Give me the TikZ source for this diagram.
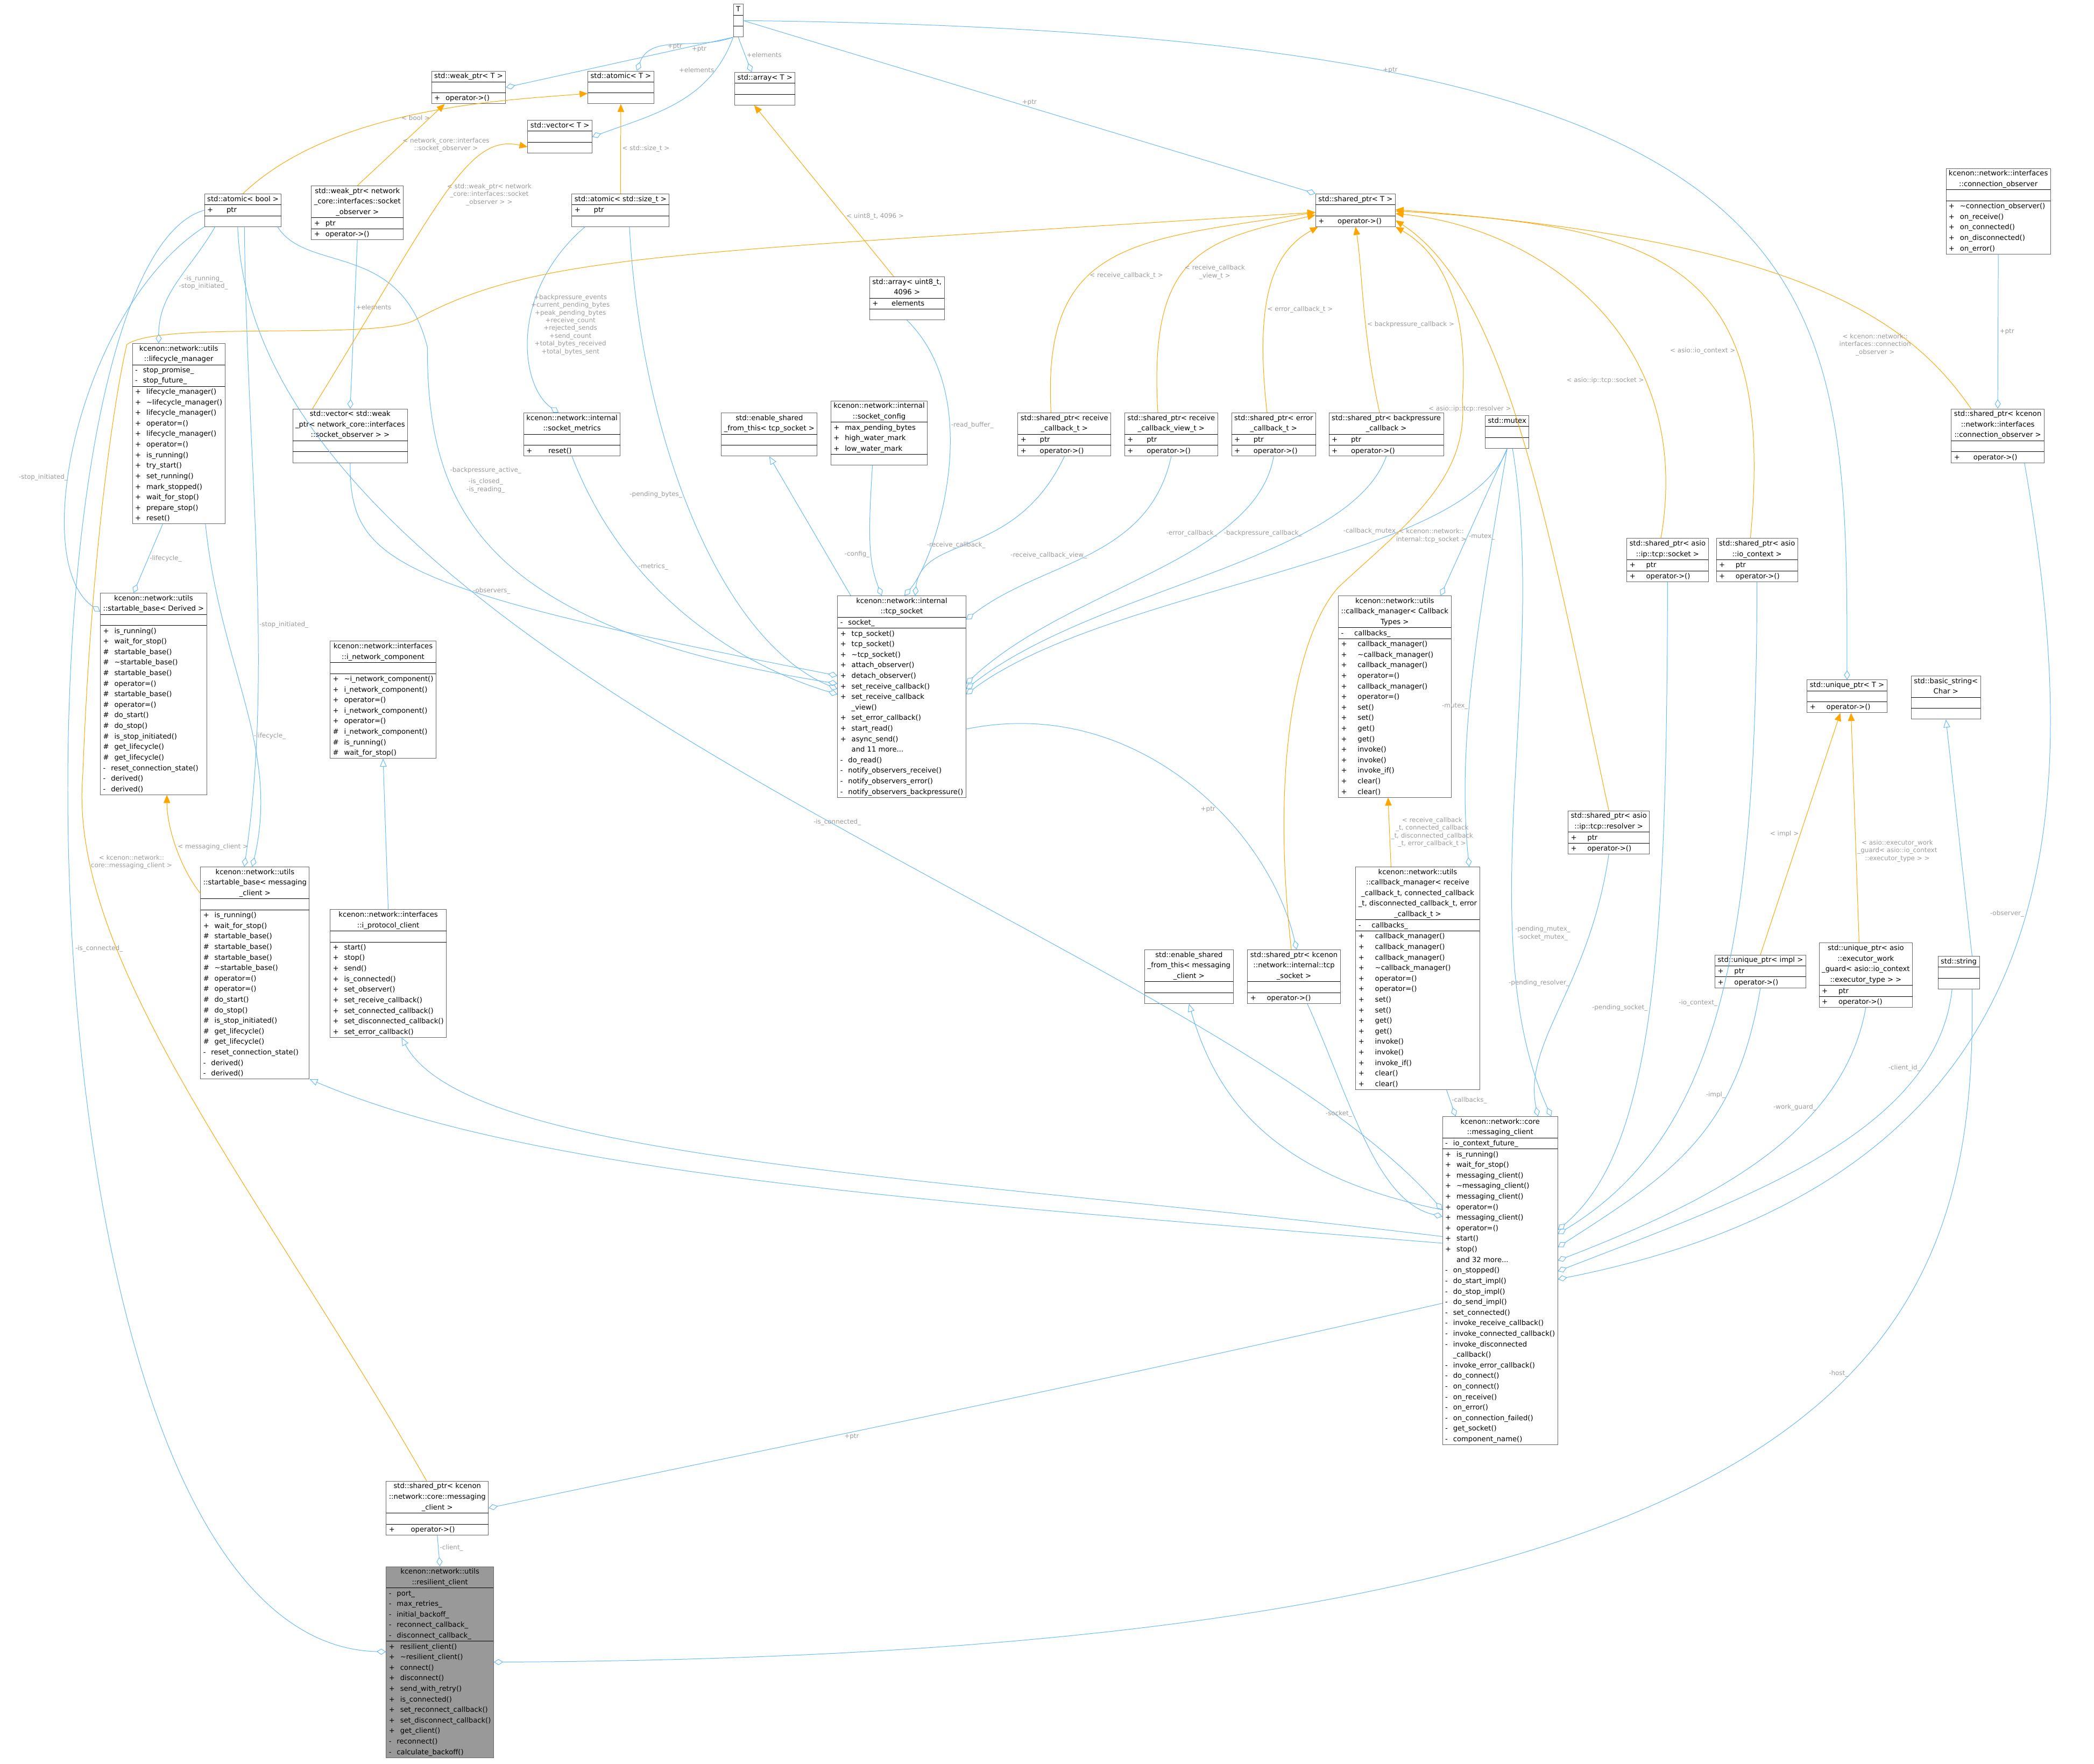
\documentclass[tikz,border=0pt]{standalone}
\usepackage{fontspec}
\setmainfont{DejaVu Sans}
\usetikzlibrary{arrows.meta}
\definecolor{cblue}{HTML}{63B8FF}
\definecolor{corange}{HTML}{FFA500}
\definecolor{labc}{HTML}{9A9A9A}
\definecolor{boxc}{HTML}{666666}
\newcommand\ttl[1]{\multicolumn{1}{@{\hspace{2pt}}c@{\hspace{2pt}}}{#1}\\}
\newcommand\mm[2]{#1\hspace{4pt}#2\\}
\newcommand\bx[1]{\begin{tabular}{@{\hspace{2pt}}l@{\hspace{2pt}}}#1\end{tabular}}
\newcommand\tl{\textasciitilde}
\begin{document}
\catcode`\_=12
\begin{tikzpicture}[x=1pt,y=-1pt,
  box/.style={draw=boxc,fill=white,inner sep=0pt,anchor=north west,font=\fontsize{5.3}{7.9}\selectfont},
  agg/.style={draw=cblue,-{Diamond[open,length=7pt,width=4.5pt]}},
  inh/.style={draw=cblue,-{Triangle[open,length=6pt,width=5pt]}},
  tmp/.style={draw=corange,-{Triangle[length=6pt,width=5pt]}},
  lbl/.style={font=\fontsize{4.8}{5.8}\selectfont,text=labc,align=center,inner sep=1pt}]
\useasboundingbox (0,0) rectangle (1568,1321);

% ---------- nodes ----------
\node[box] (T) at (549,3) {\bx{\ttl{T}\hline\\\hline\\}};
\node[box] (weakT) at (323,53) {\bx{\ttl{std::weak_ptr< T >}\hline\\\hline\mm{+}{operator->()}}};
\node[box] (atomicT) at (440,53) {\bx{\ttl{std::atomic< T >}\hline\\\hline\\}};
\node[box] (arrayT) at (550,54) {\bx{\ttl{std::array< T >}\hline\\\hline\\}};
\node[box] (vectorT) at (395,90) {\bx{\ttl{std::vector< T >}\hline\\\hline\\}};
\node[box] (atomicBool) at (153,145) {\bx{\ttl{std::atomic< bool >}\hline\mm{+}{\hspace{6pt}ptr}\hline\\}};
\node[box] (weakObs) at (233,139) {\bx{\ttl{std::weak_ptr< network}\ttl{_core::interfaces::socket}\ttl{_observer >}\hline\mm{+}{ptr}\hline\mm{+}{operator->()}}};
\node[box] (atomicSize) at (428,145) {\bx{\ttl{std::atomic< std::size_t >}\hline\mm{+}{\hspace{6pt}ptr}\hline\\}};
\node[box] (lifecycle) at (99,257) {\bx{\ttl{kcenon::network::utils}\ttl{::lifecycle_manager}\hline
 \mm{-}{stop_promise_}\mm{-}{stop_future_}\hline
 \mm{+}{lifecycle_manager()}\mm{+}{\tl lifecycle_manager()}\mm{+}{lifecycle_manager()}\mm{+}{operator=()}\mm{+}{lifecycle_manager()}\mm{+}{operator=()}\mm{+}{is_running()}\mm{+}{try_start()}\mm{+}{set_running()}\mm{+}{mark_stopped()}\mm{+}{wait_for_stop()}\mm{+}{prepare_stop()}\mm{+}{reset()}}};
\node[box] (vecWeak) at (219,306) {\bx{\ttl{std::vector< std::weak}\ttl{_ptr< network_core::interfaces}\ttl{::socket_observer > >}\hline\\\hline\\}};
\node[box] (metrics) at (392,309) {\bx{\ttl{kcenon::network::internal}\ttl{::socket_metrics}\hline\\\hline\mm{+}{\hspace{8pt}reset()}}};
\node[box] (esftTcp) at (540,309) {\bx{\ttl{std::enable_shared}\ttl{_from_this< tcp_socket >}\hline\\\hline\\}};
\node[box] (config) at (622,300) {\bx{\ttl{kcenon::network::internal}\ttl{::socket_config}\hline\mm{+}{max_pending_bytes}\mm{+}{high_water_mark}\mm{+}{low_water_mark}\hline\\}};
\node[box] (arrU8) at (651,207) {\bx{\ttl{std::array< uint8_t,}\ttl{4096 >}\hline\mm{+}{\hspace{6pt}elements}\hline\\}};
\node[box] (sharedT) at (985,145) {\bx{\ttl{std::shared_ptr< T >}\hline\\\hline\mm{+}{\hspace{6pt}operator->()}}};
\node[box] (spRecv) at (762,309) {\bx{\ttl{std::shared_ptr< receive}\ttl{_callback_t >}\hline\mm{+}{\hspace{6pt}ptr}\hline\mm{+}{\hspace{6pt}operator->()}}};
\node[box] (spRecvView) at (842,309) {\bx{\ttl{std::shared_ptr< receive}\ttl{_callback_view_t >}\hline\mm{+}{\hspace{6pt}ptr}\hline\mm{+}{\hspace{6pt}operator->()}}};
\node[box] (spErr) at (922,309) {\bx{\ttl{std::shared_ptr< error}\ttl{_callback_t >}\hline\mm{+}{\hspace{6pt}ptr}\hline\mm{+}{\hspace{6pt}operator->()}}};
\node[box] (spBack) at (995,309) {\bx{\ttl{std::shared_ptr< backpressure}\ttl{_callback >}\hline\mm{+}{\hspace{6pt}ptr}\hline\mm{+}{\hspace{6pt}operator->()}}};
\node[box] (mutex) at (1112,311) {\bx{\ttl{std::mutex}\hline\\\hline\\}};
\node[box] (tcp) at (627,446) {\bx{\ttl{kcenon::network::internal}\ttl{::tcp_socket}\hline\mm{-}{socket_}\hline
 \mm{+}{tcp_socket()}\mm{+}{tcp_socket()}\mm{+}{\tl tcp_socket()}\mm{+}{attach_observer()}\mm{+}{detach_observer()}\mm{+}{set_receive_callback()}\mm{+}{set_receive_callback}\mm{\phantom{+}}{_view()}\mm{+}{set_error_callback()}\mm{+}{start_read()}\mm{+}{async_send()}\mm{\phantom{+}}{and 11 more...}\mm{-}{do_read()}\mm{-}{notify_observers_receive()}\mm{-}{notify_observers_error()}\mm{-}{notify_observers_backpressure()}}};
\node[box] (cbmT) at (1002,446) {\bx{\ttl{kcenon::network::utils}\ttl{::callback_manager< Callback}\ttl{Types >}\hline\mm{-}{\hspace{4pt}callbacks_}\hline
 \mm{+}{\hspace{4pt}callback_manager()}\mm{+}{\hspace{4pt}\tl callback_manager()}\mm{+}{\hspace{4pt}callback_manager()}\mm{+}{\hspace{4pt}operator=()}\mm{+}{\hspace{4pt}callback_manager()}\mm{+}{\hspace{4pt}operator=()}\mm{+}{\hspace{4pt}set()}\mm{+}{\hspace{4pt}set()}\mm{+}{\hspace{4pt}get()}\mm{+}{\hspace{4pt}get()}\mm{+}{\hspace{4pt}invoke()}\mm{+}{\hspace{4pt}invoke()}\mm{+}{\hspace{4pt}invoke_if()}\mm{+}{\hspace{4pt}clear()}\mm{+}{\hspace{4pt}clear()}}};
\node[box] (spAsioSock) at (1218,403) {\bx{\ttl{std::shared_ptr< asio}\ttl{::ip::tcp::socket >}\hline\mm{+}{\hspace{4pt}ptr}\hline\mm{+}{\hspace{4pt}operator->()}}};
\node[box] (spIoCtx) at (1285,403) {\bx{\ttl{std::shared_ptr< asio}\ttl{::io_context >}\hline\mm{+}{\hspace{4pt}ptr}\hline\mm{+}{\hspace{4pt}operator->()}}};
\node[box] (connObs) at (1457,126) {\bx{\ttl{kcenon::network::interfaces}\ttl{::connection_observer}\hline\\\hline\mm{+}{\tl connection_observer()}\mm{+}{on_receive()}\mm{+}{on_connected()}\mm{+}{on_disconnected()}\mm{+}{on_error()}}};
\node[box] (spConnObs) at (1461,306) {\bx{\ttl{std::shared_ptr< kcenon}\ttl{::network::interfaces}\ttl{::connection_observer >}\hline\\\hline\mm{+}{\hspace{6pt}operator->()}}};
\node[box] (uniqueT) at (1353,509) {\bx{\ttl{std::unique_ptr< T >}\hline\\\hline\mm{+}{\hspace{4pt}operator->()}}};
\node[box] (basicStr) at (1431,506) {\bx{\ttl{std::basic_string<}\ttl{Char >}\hline\\\hline\\}};
\node[box] (spResolver) at (1174,607) {\bx{\ttl{std::shared_ptr< asio}\ttl{::ip::tcp::resolver >}\hline\mm{+}{\hspace{4pt}ptr}\hline\mm{+}{\hspace{4pt}operator->()}}};
\node[box] (startD) at (75,444) {\bx{\ttl{kcenon::network::utils}\ttl{::startable_base< Derived >}\hline\\\hline
 \mm{+}{is_running()}\mm{+}{wait_for_stop()}\mm{\#}{startable_base()}\mm{\#}{\tl startable_base()}\mm{\#}{startable_base()}\mm{\#}{operator=()}\mm{\#}{startable_base()}\mm{\#}{operator=()}\mm{\#}{do_start()}\mm{\#}{do_stop()}\mm{\#}{is_stop_initiated()}\mm{\#}{get_lifecycle()}\mm{\#}{get_lifecycle()}\mm{-}{reset_connection_state()}\mm{-}{derived()}\mm{-}{derived()}}};
\node[box] (inetcomp) at (247,480) {\bx{\ttl{kcenon::network::interfaces}\ttl{::i_network_component}\hline\\\hline
 \mm{+}{\tl i_network_component()}\mm{+}{i_network_component()}\mm{+}{operator=()}\mm{+}{i_network_component()}\mm{+}{operator=()}\mm{\#}{i_network_component()}\mm{\#}{is_running()}\mm{\#}{wait_for_stop()}}};
\node[box] (startMC) at (150,649) {\bx{\ttl{kcenon::network::utils}\ttl{::startable_base< messaging}\ttl{_client >}\hline\\\hline
 \mm{+}{is_running()}\mm{+}{wait_for_stop()}\mm{\#}{startable_base()}\mm{\#}{startable_base()}\mm{\#}{startable_base()}\mm{\#}{\tl startable_base()}\mm{\#}{operator=()}\mm{\#}{operator=()}\mm{\#}{do_start()}\mm{\#}{do_stop()}\mm{\#}{is_stop_initiated()}\mm{\#}{get_lifecycle()}\mm{\#}{get_lifecycle()}\mm{-}{reset_connection_state()}\mm{-}{derived()}\mm{-}{derived()}}};
\node[box] (iproto) at (247,681) {\bx{\ttl{kcenon::network::interfaces}\ttl{::i_protocol_client}\hline\\\hline
 \mm{+}{start()}\mm{+}{stop()}\mm{+}{send()}\mm{+}{is_connected()}\mm{+}{set_observer()}\mm{+}{set_receive_callback()}\mm{+}{set_connected_callback()}\mm{+}{set_disconnected_callback()}\mm{+}{set_error_callback()}}};
\node[box] (esftMC) at (857,711) {\bx{\ttl{std::enable_shared}\ttl{_from_this< messaging}\ttl{_client >}\hline\\\hline\\}};
\node[box] (spTcp) at (934,711) {\bx{\ttl{std::shared_ptr< kcenon}\ttl{::network::internal::tcp}\ttl{_socket >}\hline\\\hline\mm{+}{\hspace{4pt}operator->()}}};
\node[box] (cbmR) at (1015,649) {\bx{\ttl{kcenon::network::utils}\ttl{::callback_manager< receive}\ttl{_callback_t, connected_callback}\ttl{_t, disconnected_callback_t, error}\ttl{_callback_t >}\hline\mm{-}{\hspace{4pt}callbacks_}\hline
 \mm{+}{\hspace{4pt}callback_manager()}\mm{+}{\hspace{4pt}callback_manager()}\mm{+}{\hspace{4pt}callback_manager()}\mm{+}{\hspace{4pt}\tl callback_manager()}\mm{+}{\hspace{4pt}operator=()}\mm{+}{\hspace{4pt}operator=()}\mm{+}{\hspace{4pt}set()}\mm{+}{\hspace{4pt}set()}\mm{+}{\hspace{4pt}get()}\mm{+}{\hspace{4pt}get()}\mm{+}{\hspace{4pt}invoke()}\mm{+}{\hspace{4pt}invoke()}\mm{+}{\hspace{4pt}invoke_if()}\mm{+}{\hspace{4pt}clear()}\mm{+}{\hspace{4pt}clear()}}};
\node[box] (mc) at (1080,836) {\bx{\ttl{kcenon::network::core}\ttl{::messaging_client}\hline\mm{-}{io_context_future_}\hline
 \mm{+}{is_running()}\mm{+}{wait_for_stop()}\mm{+}{messaging_client()}\mm{+}{\tl messaging_client()}\mm{+}{messaging_client()}\mm{+}{operator=()}\mm{+}{messaging_client()}\mm{+}{operator=()}\mm{+}{start()}\mm{+}{stop()}\mm{\phantom{+}}{and 32 more...}\mm{-}{on_stopped()}\mm{-}{do_start_impl()}\mm{-}{do_stop_impl()}\mm{-}{do_send_impl()}\mm{-}{set_connected()}\mm{-}{invoke_receive_callback()}\mm{-}{invoke_connected_callback()}\mm{-}{invoke_disconnected}\mm{\phantom{-}}{_callback()}\mm{-}{invoke_error_callback()}\mm{-}{do_connect()}\mm{-}{on_connect()}\mm{-}{on_receive()}\mm{-}{on_error()}\mm{-}{on_connection_failed()}\mm{-}{get_socket()}\mm{-}{component_name()}}};
\node[box] (upImpl) at (1284,715) {\bx{\ttl{std::unique_ptr< impl >}\hline\mm{+}{\hspace{4pt}ptr}\hline\mm{+}{\hspace{4pt}operator->()}}};
\node[box] (upWG) at (1362,706) {\bx{\ttl{std::unique_ptr< asio}\ttl{::executor_work}\ttl{_guard< asio::io_context}\ttl{::executor_type > >}\hline\mm{+}{\hspace{4pt}ptr}\hline\mm{+}{\hspace{4pt}operator->()}}};
\node[box] (str) at (1451,716) {\bx{\ttl{std::string}\hline\\\hline\\}};
\node[box] (spMC) at (289,1109) {\bx{\ttl{std::shared_ptr< kcenon}\ttl{::network::core::messaging}\ttl{_client >}\hline\\\hline\mm{+}{\hspace{8pt}operator->()}}};
\node[box,fill=black!40] (res) at (289,1173) {\bx{\ttl{kcenon::network::utils}\ttl{::resilient_client}\hline
 \mm{-}{port_}\mm{-}{max_retries_}\mm{-}{initial_backoff_}\mm{-}{reconnect_callback_}\mm{-}{disconnect_callback_}\hline
 \mm{+}{resilient_client()}\mm{+}{\tl resilient_client()}\mm{+}{connect()}\mm{+}{disconnect()}\mm{+}{send_with_retry()}\mm{+}{is_connected()}\mm{+}{set_reconnect_callback()}\mm{+}{set_disconnect_callback()}\mm{+}{get_client()}\mm{-}{reconnect()}\mm{-}{calculate_backoff()}}};

% ---------- aggregation (blue) ----------
\draw[agg] (T.south west) -- node[lbl,pos=0.15,below]{+ptr} (weakT.east);
\draw[agg] (T.south west) to[out=200,in=70] node[lbl,pos=0.6,right]{+ptr} ([xshift=12pt]atomicT.north);
\draw[agg] (T.south west) to[out=250,in=20] node[lbl,pos=0.2,left]{+elements} (vectorT.east);
\draw[agg] (T.south) -- node[lbl,pos=0.5,right]{+elements} ([xshift=-10pt]arrayT.north);
\draw[agg] (T.east) -- node[lbl,pos=0.5,above]{+ptr} (sharedT.north west);
\draw[agg] (T.east) .. controls (1383,24) and (1383,200) .. node[lbl,pos=0.25,right]{+ptr} (uniqueT.north);
\draw[agg] (connObs.south) -- node[lbl,pos=0.5,right]{+ptr} (spConnObs.north);
\draw[agg] (weakObs.south) -- node[lbl,pos=0.4,right]{+elements} (vecWeak.north);
\draw[agg] ([xshift=8pt]atomicBool.south west) to[out=240,in=90] node[lbl,pos=0.5,right]{-is_running_\\-stop_initiated_} ([xshift=-15pt]lifecycle.north);
\draw[agg] (atomicBool.south west) .. controls (60,230) and (20,420) .. node[lbl,pos=0.6,left]{-stop_initiated_} ([yshift=-14pt]startD.north west);
\draw[agg] ([xshift=30pt]atomicBool.south west) .. controls (185,350) and (205,500) .. node[lbl,pos=0.6,right]{-stop_initiated_} ([xshift=-8pt]startMC.north);
\draw[agg] ([xshift=-3pt]atomicBool.south east) .. controls (230,205) and (300,180) .. (320,260) .. controls (320,380) and (360,470) .. node[lbl,pos=0.3,right]{-backpressure_active_\\[3pt]-is_closed_\\-is_reading_} ([yshift=-66pt]tcp.north west);
\draw[agg] ([xshift=25pt]atomicBool.south west) .. controls (190,500) and (900,700) .. node[lbl,pos=0.55,above]{-is_connected_} ([yshift=-70pt]mc.north west);
\draw[agg] (atomicBool.west) .. controls (0,200) and (0,1230) .. node[lbl,pos=0.5,right]{-is_connected_} ([yshift=-64pt]res.north west);
\draw[agg] ([xshift=-12pt]lifecycle.south) -- node[lbl,pos=0.5,right]{-lifecycle_} ([xshift=-15pt]startD.north);
\draw[agg] ([xshift=20pt]lifecycle.south) .. controls (165,500) and (210,560) .. node[lbl,pos=0.6,right]{-lifecycle_} ([xshift=-2pt]startMC.north);
\draw[agg] (vecWeak.south) .. controls (262,420) and (290,440) .. node[lbl,pos=0.6,right]{-observers_} ([yshift=-60pt]tcp.north west);
\draw[agg] ([xshift=10pt]atomicSize.south west) .. controls (380,220) and (390,290) .. node[lbl,pos=0.45,right]{+backpressure_events\\+current_pending_bytes\\+peak_pending_bytes\\+receive_count\\+rejected_sends\\+send_count\\+total_bytes_received\\+total_bytes_sent} ([xshift=-10pt]metrics.north);
\draw[agg] ([xshift=-30pt]atomicSize.south east) .. controls (480,330) and (540,480) .. node[lbl,pos=0.45,left]{-pending_bytes_} ([yshift=-70pt]tcp.north west);
\draw[agg] (metrics.south) .. controls (470,450) and (560,500) .. node[lbl,pos=0.3,right]{-metrics_} ([yshift=-74pt]tcp.north west);
\draw[agg] (arrU8.south) .. controls (740,300) and (700,420) .. node[lbl,pos=0.35,right]{-read_buffer_} ([xshift=2pt]tcp.north);
\draw[agg] ([xshift=-5pt]config.south) .. controls (650,400) and (650,420) .. node[lbl,pos=0.6,left]{-config_} ([xshift=-15pt]tcp.north);
\draw[agg] (spRecv.south) .. controls (760,420) and (690,400) .. node[lbl,pos=0.6,above]{-receive_callback_} ([xshift=10pt]tcp.north);
\draw[agg] (spRecvView.south) .. controls (860,420) and (780,420) .. node[lbl,pos=0.5,left]{-receive_callback_view_} ([yshift=-18pt]tcp.north east);
\draw[agg] (spErr.south) .. controls (940,420) and (800,440) .. node[lbl,pos=0.3,left]{-error_callback_} ([yshift=-66pt]tcp.north east);
\draw[agg] (spBack.south) .. controls (1010,420) and (820,440) .. node[lbl,pos=0.3,left]{-backpressure_callback_} ([yshift=-70pt]tcp.north east);
\draw[agg] (mutex.south) .. controls (1100,420) and (830,440) .. node[lbl,pos=0.3,left]{-callback_mutex_} ([yshift=-74pt]tcp.north east);
\draw[agg] (mutex.south) -- node[lbl,pos=0.6,right]{-mutex_} ([xshift=-8pt]cbmT.north east);
\draw[agg] (mutex.south) .. controls (1110,450) and (1090,550) .. node[lbl,pos=0.6,left]{-mutex_} ([xshift=-8pt]cbmR.north east);
\draw[agg] ([xshift=4pt]mutex.south) .. controls (1160,500) and (1100,700) .. node[lbl,pos=0.7,right]{-pending_mutex_\\-socket_mutex_} ([xshift=-5pt]mc.north east);
\draw[agg] ([yshift=-100pt]tcp.north east) .. controls (850,520) and (950,620) .. node[lbl,pos=0.6,left]{+ptr} ([xshift=2pt]spTcp.north);
\draw[agg] ([xshift=10pt]spTcp.south) .. controls (1010,820) and (1030,900) .. node[lbl,pos=0.4,left]{-socket_} ([yshift=-75pt]mc.north west);
\draw[agg] ([xshift=-25pt]cbmR.south east) -- node[lbl,pos=0.4,right]{-callbacks_} ([xshift=10pt]mc.north west);
\draw[agg] (spResolver.south) .. controls (1190,740) and (1140,780) .. node[lbl,pos=0.4,left]{-pending_resolver_} ([xshift=-15pt]mc.north east);
\draw[agg] (spAsioSock.south) .. controls (1248,700) and (1240,860) .. node[lbl,pos=0.5,left]{-pending_socket_} ([yshift=-85pt]mc.north east);
\draw[agg] (spIoCtx.south) .. controls (1315,700) and (1290,850) .. node[lbl,pos=0.5,left]{-io_context_} ([yshift=-88pt]mc.north east);
\draw[agg] (upImpl.south) .. controls (1300,850) and (1250,880) .. node[lbl,pos=0.3,left]{-impl_} ([yshift=-98pt]mc.north east);
\draw[agg] (upWG.south) .. controls (1380,850) and (1280,900) .. node[lbl,pos=0.3,left]{-work_guard_} ([yshift=-108pt]mc.north east);
\draw[agg] ([xshift=-5pt]str.south) .. controls (1450,850) and (1300,900) .. node[lbl,pos=0.2,left]{-client_id_} ([yshift=-116pt]mc.north east);
\draw[agg] ([xshift=20pt]spConnObs.south) .. controls (1560,600) and (1560,880) .. node[lbl,pos=0.45,left]{-observer_} ([yshift=-122pt]mc.north east);
\draw[agg] ([yshift=-140pt]mc.north west) .. controls (800,1040) and (600,1080) .. node[lbl,pos=0.6,below]{+ptr} (spMC.east);
\draw[agg] (spMC.south) -- node[lbl,pos=0.4,right]{-client_} (res.north);
\draw[agg] ([xshift=10pt]str.south) .. controls (1480,1000) and (1400,1240) .. node[lbl,pos=0.4,left]{-host_} (res.east);

% ---------- inheritance ----------
\draw[inh] ([xshift=10pt]tcp.north west) -- (esftTcp.south);
\draw[inh] (iproto.north) -- (inetcomp.south);
\draw[inh] ([yshift=-95pt]mc.north west) .. controls (700,900) and (400,880) .. (startMC.south east);
\draw[inh] ([yshift=-90pt]mc.north west) .. controls (700,880) and (350,870) .. ([xshift=10pt]iproto.south);
\draw[inh] ([yshift=-70pt]mc.north west) .. controls (950,880) and (910,820) .. (esftMC.south);
\draw[inh] ([xshift=10pt]str.north) -- (basicStr.south);

% ---------- template instantiation (orange) ----------
\draw[tmp] (atomicBool.north) .. controls (250,80) and (380,75) .. node[lbl,pos=0.45,right]{< bool >} ([yshift=-17pt]atomicT.north west);
\draw[tmp] (weakObs.north) -- node[lbl,pos=0.5,right]{< network_core::interfaces\\::socket_observer >} ([xshift=10pt]weakT.south west);
\draw[tmp] ([xshift=15pt]vecWeak.north west) .. controls (330,150) and (350,100) .. node[lbl,pos=0.5,right]{< std::weak_ptr< network\\_core::interfaces::socket\\_observer > >} ([yshift=-20pt]vectorT.north west);
\draw[tmp] (atomicSize.north) -- node[lbl,pos=0.5,right]{< std::size_t >} (atomicT.south);
\draw[tmp] ([xshift=-10pt]arrU8.north) -- node[lbl,pos=0.35,right]{< uint8_t, 4096 >} ([xshift=-8pt]arrayT.south);
\draw[tmp] ([xshift=-8pt]spMC.north) .. controls (200,900) and (50,720) .. node[lbl,pos=0.85,right]{< kcenon::network::\\core::messaging_client >} (62,580) .. controls (68,420) and (85,300) .. (95,258) .. controls (120,240) and (280,255) .. (310,240) .. controls (400,190) and (500,190) .. ([yshift=-14pt]sharedT.north west);
\draw[tmp] ([xshift=-10pt]spRecv.north) .. controls (780,180) and (850,180) .. node[lbl,pos=0.4,right]{< receive_callback_t >} ([yshift=-14pt]sharedT.north west);
\draw[tmp] ([xshift=-10pt]spRecvView.north) .. controls (860,190) and (900,180) .. node[lbl,pos=0.45,right]{< receive_callback\\_view_t >} ([yshift=-16pt]sharedT.north west);
\draw[tmp] ([xshift=-5pt]spErr.north) .. controls (940,230) and (950,190) .. node[lbl,pos=0.4,right]{< error_callback_t >} ([xshift=2pt]sharedT.south west);
\draw[tmp] ([xshift=-5pt]spBack.north) .. controls (1020,250) and (1020,200) .. node[lbl,pos=0.4,right]{< backpressure_callback >} (sharedT.south);
\draw[tmp] ([xshift=-2pt]spTcp.north) .. controls (950,560) and (975,470) .. (1002,440) .. controls (1050,395) and (1100,360) .. node[lbl,pos=0.3,right]{< kcenon::network::\\internal::tcp_socket >} (1095,300) .. controls (1100,230) and (1080,190) .. (sharedT.south east);
\draw[tmp] (spResolver.north) .. controls (1160,400) and (1130,220) .. node[lbl,pos=0.55,left]{< asio::ip::tcp::resolver >} ([yshift=-20pt]sharedT.north east);
\draw[tmp] ([xshift=-5pt]spAsioSock.north) .. controls (1270,250) and (1150,170) .. node[lbl,pos=0.3,left]{< asio::ip::tcp::socket >} ([yshift=-15pt]sharedT.north east);
\draw[tmp] ([xshift=-5pt]spIoCtx.north) .. controls (1330,200) and (1250,170) .. node[lbl,pos=0.3,left]{< asio::io_context >} ([yshift=-13pt]sharedT.north east);
\draw[tmp] ([xshift=-20pt]spConnObs.north) .. controls (1430,240) and (1350,180) .. node[lbl,pos=0.25,left]{< kcenon::network::\\interfaces::connection\\_observer >} ([yshift=-12pt]sharedT.north east);
\draw[tmp] ([yshift=-20pt]startMC.north west) .. controls (135,650) and (125,620) .. node[lbl,pos=0.5,right]{< messaging_client >} ([xshift=10pt]startD.south);
\draw[tmp] ([xshift=-20pt]cbmR.north) -- node[lbl,pos=0.5,right]{< receive_callback\\_t, connected_callback\\_t, disconnected_callback\\_t, error_callback_t >} ([xshift=-5pt]cbmT.south);
\draw[tmp] (upImpl.north) -- node[lbl,pos=0.5,left]{< impl >} ([xshift=-5pt]uniqueT.south);
\draw[tmp] ([xshift=-5pt]upWG.north) -- node[lbl,pos=0.4,right]{< asio::executor_work\\_guard< asio::io_context\\::executor_type > >} ([xshift=3pt]uniqueT.south);
\end{tikzpicture}
\end{document}
